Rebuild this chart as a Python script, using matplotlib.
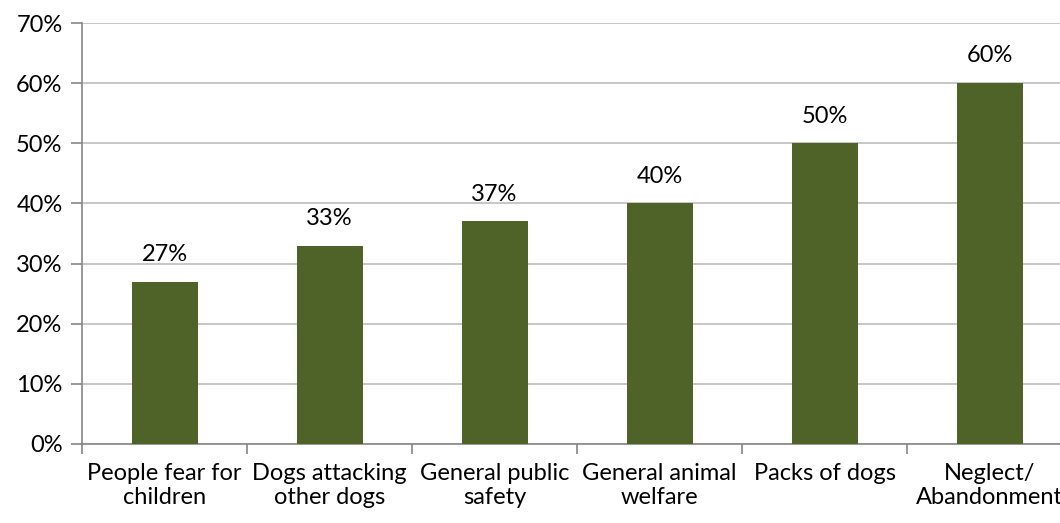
import numpy as np
import matplotlib.pyplot as plt

categories = ['People fear for\nchildren', 'Dogs attacking\nother dogs', 'General public\nsafety',
              'General animal\nwelfare', 'Packs of dogs', 'Neglect/\nAbandonment']
values = [27, 33, 37, 40, 50, 60]
labels = ['27%', '33%', '37%', '40%', '50%', '60%']
y_ticks = [0, 10, 20, 30, 40, 50, 60, 70]

plt.rcParams['font.family'] = ['Lato', 'DejaVu Sans']
fs = 17

fig = plt.figure(figsize=(10.6, 5.23), dpi=100)
ax = fig.add_axes([82 / 1060, 79 / 523, 990 / 1060, 421 / 523])

x = np.arange(len(values))
bars = ax.bar(x, values, width=0.4, color='#4F6228', zorder=3)
for b, lab in zip(bars, labels):
    ax.annotate(lab, (b.get_x() + b.get_width() / 2, b.get_height()),
                xytext=(0, 12), textcoords='offset points', ha='center', va='bottom', fontsize=fs)

ax.set_xlim(-0.5, len(values) - 0.5)
ax.set_ylim(0, 70)
ax.set_yticks(y_ticks)
ax.set_yticklabels([f'{t}%' for t in y_ticks], fontsize=fs)
ax.yaxis.grid(True, color='#BEBEBE', linewidth=1.2, zorder=0)

# category labels centred, ticks at the boundaries
ax.set_xticks(x)
ax.set_xticklabels(categories, fontsize=fs, linespacing=1.15)
ax.tick_params(axis='x', length=0, pad=14)
ax.set_xticks(np.arange(len(values)) - 0.5, minor=True)
ax.tick_params(axis='x', which='minor', length=7, color='#868686', width=1.2)
ax.tick_params(axis='y', length=8, color='#868686', width=1.2, pad=6)

for side in ['top', 'right']:
    ax.spines[side].set_visible(False)
for side in ['left', 'bottom']:
    ax.spines[side].set_color('#868686')
    ax.spines[side].set_linewidth(1.2)

fig.savefig('out.png', dpi=100)
